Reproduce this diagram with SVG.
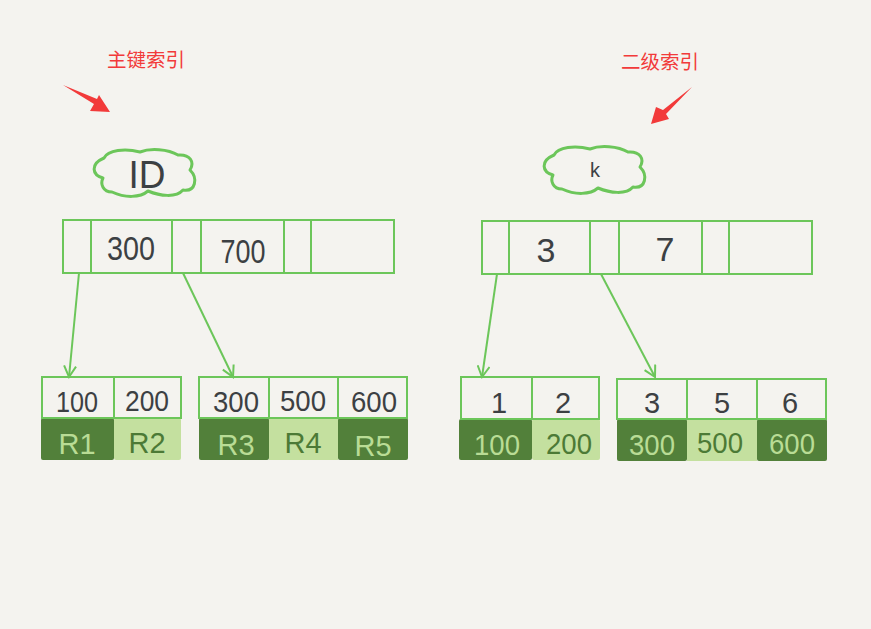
<svg xmlns="http://www.w3.org/2000/svg" width="871" height="629" viewBox="0 0 871 629">
<defs>
<style>
.bg{fill:#f4f3ef}
.cell{fill:#f4f3ef;stroke:#6cc65a;stroke-width:2}
.ln{stroke:#6cc65a;stroke-width:2;fill:none}
.cloud{fill:#f4f3ef;stroke:#6cc65a;stroke-width:3;stroke-linejoin:round}
.dk{fill:#52803a}
.lt{fill:#c4e09f}
.t{font-family:"Liberation Sans",sans-serif;fill:#3c4043;text-anchor:middle}
.tl{font-family:"Liberation Sans",sans-serif;fill:#b9dc95;text-anchor:middle}
.td{font-family:"Liberation Sans",sans-serif;fill:#4c7a36;text-anchor:middle}
.red{font-family:"Liberation Sans","Noto Sans CJK SC",sans-serif;fill:#f23a3a;font-size:19.5px}
.arr{fill:#f23a3a}
</style>
<marker id="ah" viewBox="0 0 14 14" refX="12" refY="7" markerWidth="14" markerHeight="14" markerUnits="userSpaceOnUse" orient="auto">
<path d="M1,1 L12,7 L1,13" fill="none" stroke="#6cc65a" stroke-width="2"/>
</marker>
<path id="cl" d="M104,158 C108,150 125,148 140,152 C150,148 168,149 178,155 C190,154 195,162 190,170 C198,178 196,192 183,190 C176,198 160,196 148,191 C140,198 125,198 112,192 C103,192 100,184 103,178 C92,175 90,164 104,158 Z"/>
</defs>
<rect class="bg" x="0" y="0" width="871" height="629"/>

<g id="label-primary">
<text class="red" x="107" y="67">主键索引</text>
<polygon class="arr" points="63,85 97,99 99,95 110,112 90,111 94,104"/>
</g>
<g id="label-secondary">
<text class="red" x="621" y="69">二级索引</text>
<polygon class="arr" points="692,87 666,114 669,119 651,124 656,107 663,110"/>
</g>

<g id="cloud-id">
<use href="#cl" class="cloud"/>
<text class="t" x="147" y="188" font-size="38" textLength="37" lengthAdjust="spacingAndGlyphs">ID</text>
</g>
<g id="cloud-k">
<use href="#cl" class="cloud" transform="translate(450,-3)"/>
<text class="t" x="595" y="177" font-size="20">k</text>
</g>

<g id="root-id">
<rect class="cell" x="63" y="220" width="331" height="53"/>
<line class="ln" x1="91" y1="220" x2="91" y2="273"/>
<line class="ln" x1="172" y1="220" x2="172" y2="273"/>
<line class="ln" x1="201" y1="220" x2="201" y2="273"/>
<line class="ln" x1="284" y1="220" x2="284" y2="273"/>
<line class="ln" x1="311" y1="220" x2="311" y2="273"/>
<text class="t" x="131" y="260" font-size="34" textLength="48" lengthAdjust="spacingAndGlyphs">300</text>
<text class="t" x="243" y="263" font-size="34" textLength="45" lengthAdjust="spacingAndGlyphs">700</text>
</g>

<g id="root-k">
<rect class="cell" x="482" y="221" width="330" height="53"/>
<line class="ln" x1="509" y1="221" x2="509" y2="274"/>
<line class="ln" x1="590" y1="221" x2="590" y2="274"/>
<line class="ln" x1="619" y1="221" x2="619" y2="274"/>
<line class="ln" x1="702" y1="221" x2="702" y2="274"/>
<line class="ln" x1="729" y1="221" x2="729" y2="274"/>
<text class="t" x="546" y="262" font-size="34">3</text>
<text class="t" x="665" y="261" font-size="34">7</text>
</g>

<g id="leaf-id-1">
<rect class="dk" x="41" y="418" width="73" height="42" rx="2"/>
<rect class="lt" x="114" y="418" width="67" height="42" rx="2"/>
<rect class="cell" x="42" y="377" width="139" height="41"/>
<line class="ln" x1="114" y1="377" x2="114" y2="418"/>
<text class="t" x="77" y="412" font-size="29" textLength="42" lengthAdjust="spacingAndGlyphs">100</text>
<text class="t" x="147" y="411" font-size="29" textLength="44" lengthAdjust="spacingAndGlyphs">200</text>
<text class="tl" x="77" y="454" font-size="29">R1</text>
<text class="td" x="147" y="453" font-size="29">R2</text>
</g>

<g id="leaf-id-2">
<rect class="dk" x="199" y="418" width="70" height="42" rx="2"/>
<rect class="lt" x="269" y="418" width="69" height="42"/>
<rect class="dk" x="338" y="418" width="70" height="42" rx="2"/>
<rect class="cell" x="199" y="377" width="208" height="41"/>
<line class="ln" x1="269" y1="377" x2="269" y2="418"/>
<line class="ln" x1="338" y1="377" x2="338" y2="418"/>
<text class="t" x="236" y="412" font-size="29" textLength="46" lengthAdjust="spacingAndGlyphs">300</text>
<text class="t" x="303" y="411" font-size="29" textLength="46" lengthAdjust="spacingAndGlyphs">500</text>
<text class="t" x="374" y="412" font-size="29" textLength="46" lengthAdjust="spacingAndGlyphs">600</text>
<text class="tl" x="236" y="455" font-size="29">R3</text>
<text class="td" x="303" y="453" font-size="29">R4</text>
<text class="tl" x="373" y="456" font-size="29">R5</text>
</g>

<g id="leaf-k-1">
<rect class="dk" x="459" y="419" width="73" height="41" rx="2"/>
<rect class="lt" x="532" y="419" width="68" height="41" rx="2"/>
<rect class="cell" x="461" y="377" width="138" height="42"/>
<line class="ln" x1="532" y1="377" x2="532" y2="419"/>
<text class="t" x="499" y="413" font-size="29">1</text>
<text class="t" x="563" y="413" font-size="29">2</text>
<text class="tl" x="497" y="455" font-size="29" textLength="46" lengthAdjust="spacingAndGlyphs">100</text>
<text class="td" x="569" y="454" font-size="29" textLength="46" lengthAdjust="spacingAndGlyphs">200</text>
</g>

<g id="leaf-k-2">
<rect class="dk" x="617" y="419" width="70" height="42" rx="2"/>
<rect class="lt" x="687" y="419" width="70" height="42"/>
<rect class="dk" x="757" y="419" width="70" height="42" rx="2"/>
<rect class="cell" x="617" y="379" width="209" height="40"/>
<line class="ln" x1="687" y1="379" x2="687" y2="419"/>
<line class="ln" x1="757" y1="379" x2="757" y2="419"/>
<text class="t" x="652" y="413" font-size="29">3</text>
<text class="t" x="722" y="413" font-size="29">5</text>
<text class="t" x="790" y="413" font-size="29">6</text>
<text class="tl" x="652" y="455" font-size="29" textLength="46" lengthAdjust="spacingAndGlyphs">300</text>
<text class="td" x="720" y="453" font-size="29" textLength="46" lengthAdjust="spacingAndGlyphs">500</text>
<text class="tl" x="792" y="454" font-size="29" textLength="46" lengthAdjust="spacingAndGlyphs">600</text>
</g>

<g id="connectors">
<line class="ln" x1="79" y1="273" x2="69" y2="377" marker-end="url(#ah)"/>
<line class="ln" x1="183" y1="273" x2="233" y2="377" marker-end="url(#ah)"/>
<line class="ln" x1="497" y1="274" x2="482" y2="377" marker-end="url(#ah)"/>
<line class="ln" x1="601" y1="274" x2="655" y2="377" marker-end="url(#ah)"/>
</g>
</svg>
